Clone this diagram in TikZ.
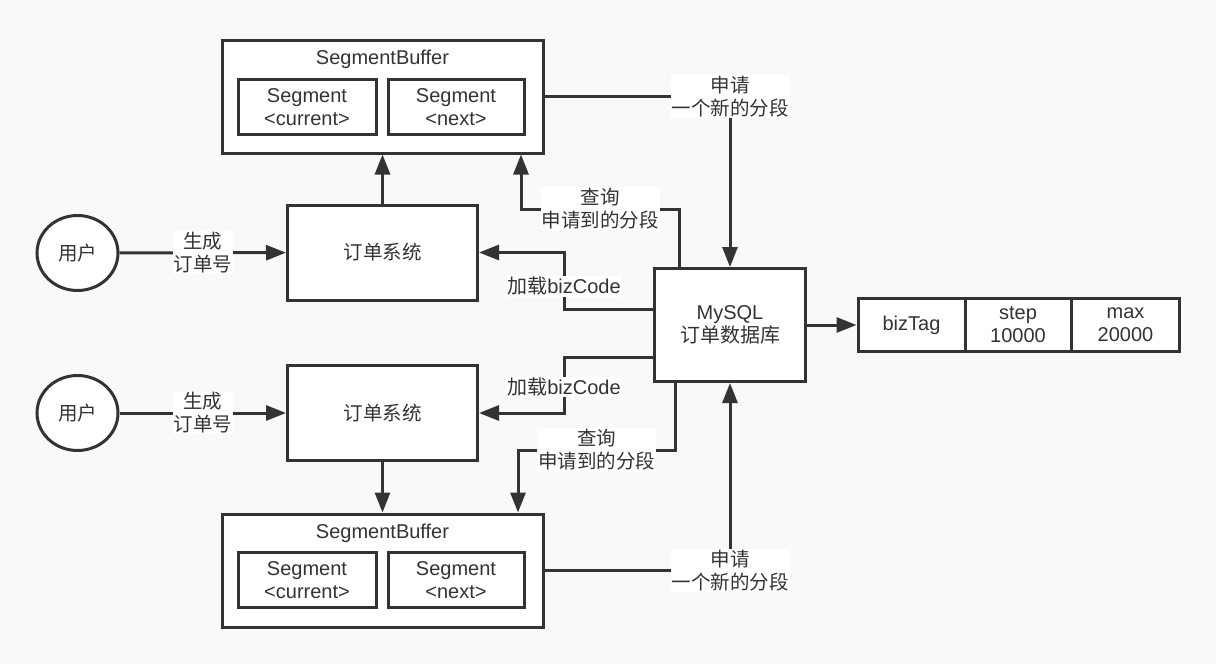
\documentclass[tikz,border=0pt]{standalone}
\usepackage{fontspec}
\setmainfont{Liberation Sans}
\newfontfamily\cjk{Noto Sans CJK SC}
\usetikzlibrary{arrows.meta,shapes.geometric}
\definecolor{linegray}{HTML}{333333}
\definecolor{bggray}{HTML}{F9F9F9}
\begin{document}
\begin{tikzpicture}
[x=1pt,y=-1pt,
  every node/.style={font=\fontsize{20}{23}\selectfont,text=linegray},
  cjktext/.style={font=\fontsize{19.5}{23}\cjk},
  boxdecorate/.style={draw=linegray,fill=white,line width=3pt,inner sep=0pt,align=center},
  labeldecorate/.style={fill=white,inner sep=1pt,align=center},
  arrowdecorate/.style={-{Triangle[length=20pt,width=15pt]},draw=linegray,line width=3pt}]
\useasboundingbox (0,0) rectangle (1216,664);
\fill[bggray] (0,0) rectangle (1216,664);
% upper half
\node (user1) at (77.5,253) [boxdecorate,ellipse,minimum width=81pt,minimum height=75pt,cjktext] {用户};
\node (sys1) at (382.5,252.5) [boxdecorate,minimum width=190pt,minimum height=95pt,cjktext] {订单系统};
\node (buf1) at (382.5,96.5) [boxdecorate,minimum width=321pt,minimum height=113pt] {};
\node (buf1title) at (382.5,59) {SegmentBuffer};
\node (cur1) at (307,107) [boxdecorate,minimum width=138pt,minimum height=55pt] {Segment\\<current>};
\node (nxt1) at (456,107) [boxdecorate,minimum width=136pt,minimum height=55pt] {Segment\\<next>};
% lower half
\node (user2) at (77.5,413) [boxdecorate,ellipse,minimum width=81pt,minimum height=75pt,cjktext] {用户};
\node (sys2) at (382.5,413) [boxdecorate,minimum width=190pt,minimum height=95pt,cjktext] {订单系统};
\node (buf2) at (382.5,570.5) [boxdecorate,minimum width=321pt,minimum height=113pt] {};
\node (buf2title) at (382.5,533) {SegmentBuffer};
\node (cur2) at (307,580) [boxdecorate,minimum width=138pt,minimum height=55pt] {Segment\\<current>};
\node (nxt2) at (456,580) [boxdecorate,minimum width=136pt,minimum height=55pt] {Segment\\<next>};
% database and table
\node (db) at (730,325) [boxdecorate,minimum width=151pt,minimum height=113pt] {MySQL\\{\cjk 订单数据库}};
\node (tag) at (911.5,325) [boxdecorate,minimum width=107pt,minimum height=53pt] {bizTag};
\node (stepcell) at (1018,325) [boxdecorate,minimum width=106pt,minimum height=53pt] {step\\10000};
\node (maxcell) at (1125.5,325) [boxdecorate,minimum width=108pt,minimum height=53pt] {max\\20000};
% edges or lines
\path
(user1) edge[arrowdecorate] node[labeldecorate,cjktext]{生成\\订单号} (sys1)
(user2) edge[arrowdecorate] node[labeldecorate,cjktext]{生成\\订单号} (sys2)
(sys1) edge[arrowdecorate] (buf1)
(sys2) edge[arrowdecorate] (buf2)
(db) edge[arrowdecorate] (tag);
\draw[arrowdecorate] (buf1.east) -| node[pos=0.5,labeldecorate,cjktext]{申请\\一个新的分段} (db.north);
\draw[arrowdecorate] ([xshift=-51pt]db.north) -- ++(0,-58) -| node[pos=0.25,labeldecorate,cjktext]{查询\\申请到的分段} ([xshift=138.5pt]buf1.south);
\draw[arrowdecorate] ([yshift=16pt]db.west) -- ++(-89,0) |- node[pos=0.2,labeldecorate]{{\cjk 加载}bizCode} (sys1.east);
\draw[arrowdecorate] ([yshift=-32pt]db.west) -- ++(-89,0) |- node[pos=0.27,labeldecorate]{{\cjk 加载}bizCode} (sys2.east);
\draw[arrowdecorate] ([xshift=-55pt]db.south) -- ++(0,67) -| node[pos=0.25,labeldecorate,cjktext]{查询\\申请到的分段} ([xshift=135.5pt]buf2.north);
\draw[arrowdecorate] (buf2.east) -| node[pos=0.5,labeldecorate,cjktext]{申请\\一个新的分段} (db.south);
\end{tikzpicture}
\end{document}
